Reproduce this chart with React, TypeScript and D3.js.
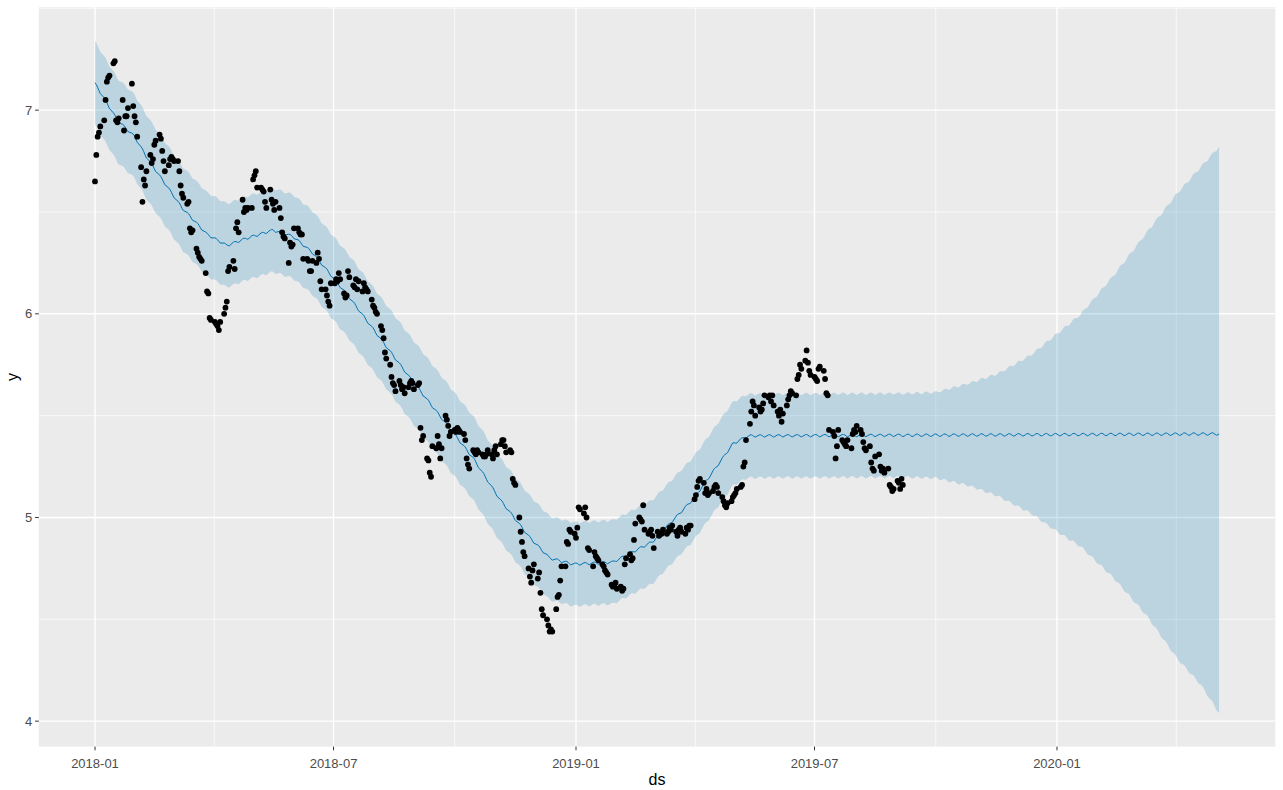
import React from "react";
import * as d3 from "d3";

// ---- observed series: one row per trading week (Mon..Fri), starting 2018-01-01 ----
const firstMonday = "2018-01-01";
const weeklyObserved: number[][] = [
  [6.65, 6.78, 6.87, 6.89, 6.92],
  [6.95, 7.05, 7.14, 7.16, 7.17],
  [7.23, 7.24, 6.95, 6.94, 6.96],
  [7.05, 6.90, 6.97, 6.97, 7.01],
  [7.13, 7.02, 6.97, 6.94, 6.87],
  [6.72, 6.55, 6.66, 6.63, 6.70],
  [6.78, 6.74, 6.76, 6.83, 6.85],
  [6.88, 6.86, 6.80, 6.75, 6.70],
  [6.73, 6.76, 6.77, 6.76, 6.75],
  [6.75, 6.70, 6.63, 6.59, 6.57],
  [6.54, 6.55, 6.42, 6.40, 6.41],
  [6.32, 6.30, 6.28, 6.27, 6.26],
  [6.20, 6.11, 6.10, 5.98, 5.97],
  [5.96, 5.95, 5.94, 5.92, 5.96],
  [6.00, 6.03, 6.06, 6.21, 6.23],
  [6.26, 6.22, 6.42, 6.45, 6.40],
  [6.56, 6.50, 6.52, 6.51, 6.52],
  [6.52, 6.66, 6.68, 6.70, 6.62],
  [6.62, 6.61, 6.60, 6.55, 6.52],
  [6.61, 6.56, 6.54, 6.51, 6.55],
  [6.52, 6.47, 6.40, 6.38, 6.37],
  [6.25, 6.35, 6.33, 6.34, 6.42],
  [6.42, 6.40, 6.39, 6.39, 6.27],
  [6.27, 6.26, 6.21, 6.21, 6.26],
  [6.25, 6.30, 6.27, 6.16, 6.12],
  [6.12, 6.09, 6.06, 6.04, 6.15],
  [6.15, 6.17, 6.16, 6.20, 6.17],
  [6.10, 6.08, 6.09, 6.21, 6.18],
  [6.14, 6.13, 6.17, 6.12, 6.16],
  [6.11, 6.15, 6.13, 6.12, 6.11],
  [6.07, 6.04, 6.03, 6.01, 6.00],
  [5.94, 5.92, 5.88, 5.81, 5.78],
  [5.75, 5.69, 5.66, 5.65, 5.62],
  [5.67, 5.65, 5.63, 5.64, 5.61],
  [5.64, 5.66, 5.67, 5.66, 5.63],
  [5.65, 5.66, 5.44, 5.38, 5.40],
  [5.29, 5.28, 5.22, 5.20, 5.35],
  [5.34, 5.40, 5.36, 5.29, 5.34],
  [5.50, 5.48, 5.45, 5.40, 5.42],
  [5.43, 5.42, 5.44, 5.43, 5.42],
  [5.41, 5.38, 5.29, 5.26, 5.24],
  [5.33, 5.32, 5.31, 5.33, 5.32],
  [5.31, 5.30, 5.30, 5.31, 5.33],
  [5.31, 5.29, 5.33, 5.35, 5.31],
  [5.36, 5.38, 5.38, 5.35, 5.32],
  [5.33, 5.32, 5.19, 5.17, 5.16],
  [5.00, 4.93, 4.88, 4.83, 4.81],
  [4.75, 4.71, 4.68, 4.74, 4.77],
  [4.70, 4.73, 4.63, 4.55, 4.52],
  [4.50, 4.47, 4.44, 4.45, 4.44],
  [4.55, 4.61, 4.62, 4.69, 4.76],
  [4.76, 4.88, 4.87, 4.94, 4.93],
  [4.92, 4.90, 4.95, 5.05, 5.04],
  [5.02, 5.05, 5.00, 4.85, 4.84],
  [4.76, 4.83, 4.81, 4.80, 4.79],
  [4.77, 4.76, 4.74, 4.73, 4.72],
  [4.67, 4.66, 4.67, 4.68, 4.65],
  [4.66, 4.64, 4.65, 4.77, 4.80],
  [4.82, 4.79, 4.80, 4.89, 4.97],
  [5.00, 4.99, 4.98, 5.06, 4.94],
  [4.92, 4.93, 4.94, 4.91, 4.85],
  [4.93, 4.91, 4.92, 4.92, 4.94],
  [4.92, 4.93, 4.95, 4.94, 4.96],
  [4.93, 4.91, 4.94, 4.95, 4.93],
  [4.92, 4.95, 4.94, 4.96, 4.96],
  [5.09, 5.11, 5.15, 5.18, 5.19],
  [5.17, 5.12, 5.14, 5.11, 5.12],
  [5.13, 5.15, 5.16, 5.15, 5.12],
  [5.10, 5.08, 5.06, 5.05, 5.07],
  [5.08, 5.10, 5.11, 5.12, 5.14],
  [5.15, 5.16, 5.25, 5.27, 5.38],
  [5.46, 5.52, 5.57, 5.55, 5.50],
  [5.54, 5.52, 5.53, 5.56, 5.60],
  [5.59, 5.60, 5.57, 5.60, 5.55],
  [5.52, 5.50, 5.53, 5.47, 5.51],
  [5.55, 5.58, 5.60, 5.62, 5.61],
  [5.60, 5.68, 5.70, 5.75, 5.73],
  [5.77, 5.82, 5.76, 5.72, 5.70],
  [5.69, 5.68, 5.67, 5.73, 5.74],
  [5.72, 5.68, 5.61, 5.60, 5.43],
  [5.42, 5.40, 5.29, 5.35, 5.43],
  [5.38, 5.37, 5.36, 5.35, 5.38],
  [5.34, 5.41, 5.43, 5.42, 5.45],
  [5.43, 5.41, 5.37, 5.34, 5.33],
  [5.35, 5.27, 5.24, 5.23, 5.30],
  [5.31, 5.25, 5.23, 5.24, 5.22],
  [5.24, 5.16, 5.15, 5.13, 5.14],
  [5.18, 5.17, 5.14, 5.19, 5.16],
];

// ---- fitted model: piecewise-linear trend knots ----
const trendDates = [
  "2018-01-01", "2018-01-18", "2018-01-31", "2018-02-10", "2018-03-08", "2018-03-27",
  "2018-04-11", "2018-04-26", "2018-05-16", "2018-05-31", "2018-06-15", "2018-07-13",
  "2018-08-28", "2018-10-15", "2018-11-04", "2018-11-27", "2018-12-12", "2018-12-30",
  "2019-01-29", "2019-02-28", "2019-03-31", "2019-04-30", "2019-05-11", "2020-05-03",
];
const trendValues = [
  7.13, 6.95, 6.87, 6.76, 6.52, 6.39,
  6.335, 6.37, 6.41, 6.38, 6.30, 6.08,
  5.685, 5.29, 5.09, 4.90, 4.80, 4.77,
  4.78, 4.88, 5.09, 5.36, 5.40, 5.41,
];

// weekly seasonal component, Sun..Sat
const weekdayEffect = [0.0, 0.005, 0.006, 0.003, -0.002, -0.006, -0.004];

// ---- uncertainty interval half-widths (upper / lower) ----
const intervalDates = [
  "2018-01-01", "2019-09-06", "2019-10-01", "2019-10-27", "2019-11-17", "2019-12-12",
  "2020-01-02", "2020-01-19", "2020-02-13", "2020-03-09", "2020-04-01", "2020-04-19", "2020-05-03",
];
const upperWidth = [0.205, 0.205, 0.21, 0.255, 0.30, 0.39, 0.50, 0.59, 0.78, 0.99, 1.18, 1.31, 1.41];
const lowerWidth = [0.205, 0.205, 0.21, 0.25, 0.30, 0.385, 0.48, 0.55, 0.705, 0.89, 1.10, 1.23, 1.37];

const forecastEnd = "2020-05-03";

// ---- axis breaks ----
const xBreaks = ["2018-01-01", "2018-07-01", "2019-01-01", "2019-07-01", "2020-01-01"];
const xBreakLabels = ["2018-01", "2018-07", "2019-01", "2019-07", "2020-01"];
const yBreaks = [4, 5, 6, 7];
const yMinorBreaks = [4.5, 5.5, 6.5, 7.5];

const W = 1283;
const H = 790;
const panel = { left: 38.8, right: 1275.3, top: 7.3, bottom: 746.6 };

const parse = (s: string) => d3.utcParse("%Y-%m-%d")(s) as Date;

export default function App() {
  const start = parse(firstMonday);
  const observed = weeklyObserved.flatMap((week, k) =>
    week.map((v, j) => ({ date: d3.utcDay.offset(start, 7 * k + j), y: v }))
  );
  const lastObs = observed[observed.length - 1].date;
  const endDate = parse(forecastEnd);

  const trend = d3.scaleUtc().domain(trendDates.map(parse)).range(trendValues).clamp(true);
  const upW = d3.scaleUtc().domain(intervalDates.map(parse)).range(upperWidth).clamp(true);
  const loW = d3.scaleUtc().domain(intervalDates.map(parse)).range(lowerWidth).clamp(true);

  // prediction dates: history dates followed by daily future dates
  const futureDates = d3.utcDay.range(d3.utcDay.offset(lastObs, 1), d3.utcDay.offset(endDate, 1));
  const predDates = observed.map((o) => o.date).concat(futureDates);
  const forecast = predDates.map((date) => {
    const yhat = trend(date) + weekdayEffect[date.getUTCDay()];
    return { date, yhat, upper: yhat + upW(date), lower: yhat - loW(date) };
  });

  // scales with 5% expansion on both axes
  const t0 = +predDates[0];
  const t1 = +predDates[predDates.length - 1];
  const tPad = (t1 - t0) * 0.05;
  const x = d3
    .scaleUtc()
    .domain([new Date(t0 - tPad), new Date(t1 + tPad)])
    .range([panel.left, panel.right]);

  const yAll = forecast.flatMap((f) => [f.upper, f.lower]).concat(observed.map((o) => o.y));
  const yMin = d3.min(yAll) as number;
  const yMax = d3.max(yAll) as number;
  const yPad = (yMax - yMin) * 0.05;
  const y = d3.scaleLinear().domain([yMin - yPad, yMax + yPad]).range([panel.bottom, panel.top]);

  const area = d3
    .area<(typeof forecast)[number]>()
    .x((d) => x(d.date))
    .y0((d) => y(d.lower))
    .y1((d) => y(d.upper));
  const line = d3
    .line<(typeof forecast)[number]>()
    .x((d) => x(d.date))
    .y((d) => y(d.yhat));

  const xMajor = xBreaks.map(parse);
  const xMinor = xMajor.slice(0, -1).map((d, i) => new Date((+d + +xMajor[i + 1]) / 2));
  xMinor.push(new Date(+xMajor[xMajor.length - 1] + (+xMajor[1] - +xMajor[0]) / 2));

  const font = "'Liberation Sans', Arial, Helvetica, sans-serif";

  return (
    <svg
      width={W}
      height={H}
      style={{ position: "absolute", left: 0, top: 0, background: "#ffffff" }}
      fontFamily={font}
    >
      <rect
        x={panel.left}
        y={panel.top}
        width={panel.right - panel.left}
        height={panel.bottom - panel.top}
        fill="#EBEBEB"
      />
      <g stroke="#ffffff" fill="none">
        {yMinorBreaks
          .filter((v) => y(v) >= panel.top - 0.5 && y(v) <= panel.bottom)
          .map((v) => (
            <line key={"ym" + v} x1={panel.left} x2={panel.right} y1={y(v)} y2={y(v)} strokeWidth={0.7} />
          ))}
        {xMinor
          .filter((d) => x(d) >= panel.left && x(d) <= panel.right)
          .map((d) => (
            <line key={"xm" + +d} x1={x(d)} x2={x(d)} y1={panel.top} y2={panel.bottom} strokeWidth={0.7} />
          ))}
        {yBreaks.map((v) => (
          <line key={"y" + v} x1={panel.left} x2={panel.right} y1={y(v)} y2={y(v)} strokeWidth={1.4} />
        ))}
        {xMajor.map((d) => (
          <line key={"x" + +d} x1={x(d)} x2={x(d)} y1={panel.top} y2={panel.bottom} strokeWidth={1.4} />
        ))}
      </g>

      <path d={area(forecast) ?? ""} fill="#0072B2" fillOpacity={0.2} />
      <path d={line(forecast) ?? ""} fill="none" stroke="#0072B2" strokeWidth={1} />

      <g fill="#000000">
        {observed.map((o, i) => (
          <circle key={i} cx={x(o.date)} cy={y(o.y)} r={2.9} />
        ))}
      </g>

      {/* y axis */}
      <g>
        {yBreaks.map((v) => (
          <g key={"yt" + v}>
            <line x1={panel.left - 3.7} x2={panel.left} y1={y(v)} y2={y(v)} stroke="#333333" strokeWidth={1} />
            <text x={panel.left - 6.6} y={y(v)} dy="0.36em" textAnchor="end" fontSize={13} fill="#4D4D4D">
              {v}
            </text>
          </g>
        ))}
      </g>
      {/* x axis */}
      <g>
        {xMajor.map((d, i) => (
          <g key={"xt" + i}>
            <line x1={x(d)} x2={x(d)} y1={panel.bottom} y2={panel.bottom + 3.7} stroke="#333333" strokeWidth={1} />
            <text x={x(d)} y={767.5} textAnchor="middle" fontSize={13} fill="#4D4D4D">
              {xBreakLabels[i]}
            </text>
          </g>
        ))}
      </g>
      <text x={(panel.left + panel.right) / 2} y={785} textAnchor="middle" fontSize={16} fill="#000000">
        ds
      </text>
      <text
        transform={`translate(18, ${(panel.top + panel.bottom) / 2}) rotate(-90)`}
        textAnchor="middle"
        fontSize={16}
        fill="#000000"
      >
        y
      </text>
    </svg>
  );
}
